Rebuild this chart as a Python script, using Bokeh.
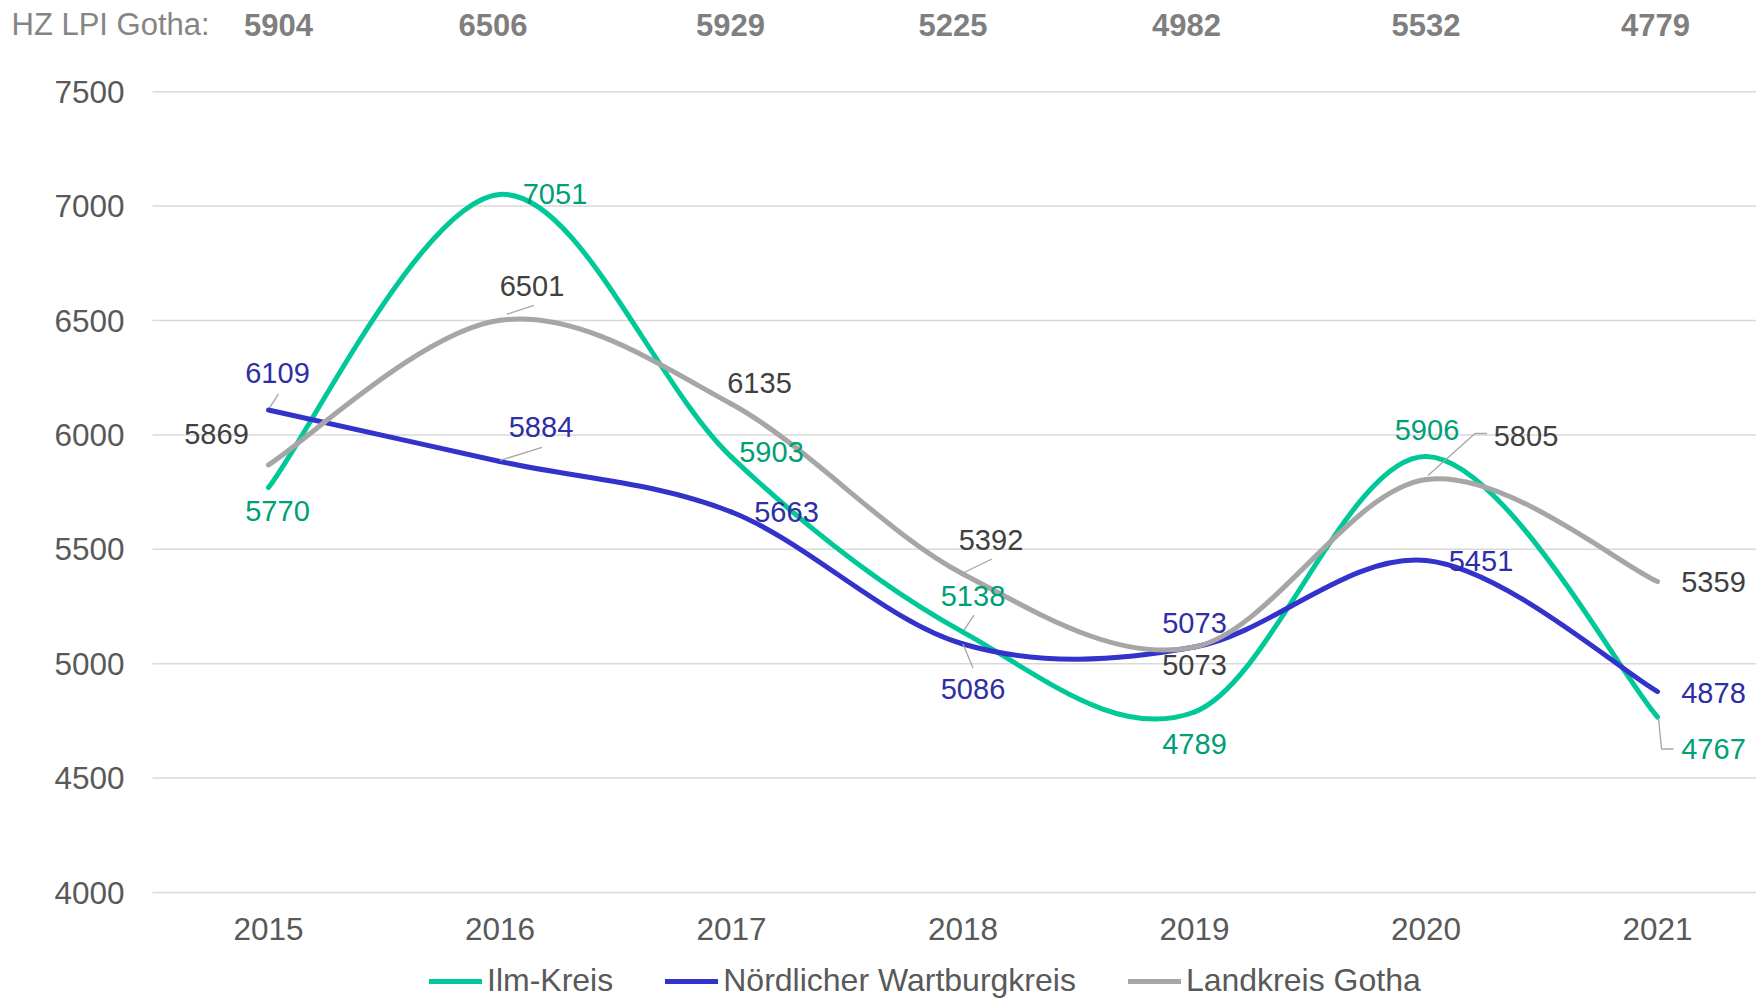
import numpy as np
from bokeh.plotting import figure
from bokeh.models import (Range1d, FixedTicker, Legend, LegendItem, LinearAxis,
                          ColumnDataSource)
from bokeh.core.properties import value
from bokeh.embed import file_html
from bokeh.resources import INLINE

# ---------------- data ----------------
years = [2015, 2016, 2017, 2018, 2019, 2020, 2021]
ilm_kreis = [5770, 7051, 5903, 5138, 4789, 5906, 4767]
wartburgkreis = [6109, 5884, 5663, 5086, 5073, 5451, 4878]
gotha = [5869, 6501, 6135, 5392, 5073, 5805, 5359]
hz_lpi_gotha = [5904, 6506, 5929, 5225, 4982, 5532, 4779]
y_ticks = [4000, 4500, 5000, 5500, 6000, 6500, 7000, 7500]
series_names = ["Ilm-Kreis", "Nördlicher Wartburgkreis", "Landkreis Gotha"]
header_title = "HZ LPI Gotha:"

# ---------------- layout / style ----------------
FONT = "Liberation Sans"
W, H = 1756, 999
PX_PER_YEAR = 231.5          # horizontal scale
PX_PER_UNIT = 0.2288         # vertical scale
X_FIRST_PX = 268             # screen x of first category
Y_BASE_PX = 892              # screen y of lowest tick
PLOT_LEFT_PX = 152           # left edge of the plotting area
HEADER_PX = 24               # screen y of header row
HEADER_TITLE_PX = 11


def sx_to_data(px):
    return years[0] + (px - X_FIRST_PX) / PX_PER_YEAR


def sy_to_data(py):
    return y_ticks[0] + (Y_BASE_PX - py) / PX_PER_UNIT


X_START, X_END = sx_to_data(0), sx_to_data(W)
Y_START, Y_END = sy_to_data(H), sy_to_data(0)
X_LEFT = sx_to_data(PLOT_LEFT_PX)
HEADER_Y = sy_to_data(HEADER_PX)

line_colors = ["#00C896", "#3333CC", "#A6A6A6"]
label_colors = ["#00A077", "#2E2EA6", "#404040"]

# label offsets in screen px (x right, y down)
label_offsets = [
    [(9, 23), (55, 0), (40, -5), (10, -36), (0, 32), (1, -26), (56, 32)],
    [(9, -37), (41, -34), (55, 0), (10, 45), (0, -24), (55, 0), (56, 1)],
    [(-52, -31), (32, -34), (28, -21), (28, -34), (0, 18), (100, -44), (56, 0)],
]
header_offsets = [10, -7, -1, -10, -8, 0, -2]
# leader lines: (series index, point index, path in px offsets)
leaders = [
    (1, 0, [(1, -2), (10, -16)]),
    (1, 1, [(0, -1), (42, -14)]),
    (2, 1, [(7, -6), (34, -15)]),
    (2, 3, [(2, -2), (29, -15)]),
    (0, 3, [(1, -2), (11, -17)]),
    (1, 3, [(0, 0), (10, 24)]),
    (2, 5, [(2, -4), (49, -46), (61, -46)]),
    (0, 6, [(1, 1), (4, 32), (16, 32)]),
]

p = figure(width=W, height=H, output_backend="svg", toolbar_location=None,
           x_range=Range1d(X_START, X_END), y_range=Range1d(Y_START, Y_END),
           x_axis_type=None, y_axis_type=None,
           min_border_left=0, min_border_right=0, min_border_top=0,
           min_border_bottom=0, title=None)
p.outline_line_color = None
p.background_fill_color = "white"
p.border_fill_color = "white"
p.xgrid.visible = False
p.ygrid.visible = False

# axes (fixed inside the frame so the frame can cover the whole canvas)
xaxis = LinearAxis(fixed_location=y_ticks[0], ticker=FixedTicker(ticks=years))
yaxis = LinearAxis(fixed_location=X_LEFT, ticker=FixedTicker(ticks=y_ticks))
for ax in (xaxis, yaxis):
    ax.axis_line_color = None
    ax.major_tick_line_color = None
    ax.minor_tick_line_color = None
    ax.major_label_text_font = FONT
    ax.major_label_text_font_size = "31.5px"
    ax.major_label_text_color = "#595959"
xaxis.major_label_standoff = 19
yaxis.major_label_standoff = 22
p.add_layout(xaxis, "below")
p.add_layout(yaxis, "left")

# horizontal grid lines across the plotting area
n = len(y_ticks)
p.segment(x0=[X_LEFT] * n, x1=[X_END] * n, y0=y_ticks, y1=y_ticks,
          line_color="#D9D9D9", line_width=1.5)


def bezier_segments(xs, ys):
    xs = np.asarray(xs, float)
    ys = np.asarray(ys, float)
    n = len(xs)
    px = np.concatenate([[xs[0]], xs, [xs[-1]]])
    py = np.concatenate([[ys[0]], ys, [ys[-1]]])
    i = np.arange(n - 1)
    return dict(
        x0=px[i + 1], y0=py[i + 1], x1=px[i + 2], y1=py[i + 2],
        cx0=px[i + 1] + (px[i + 2] - px[i]) / 6,
        cy0=py[i + 1] + (py[i + 2] - py[i]) / 6,
        cx1=px[i + 2] - (px[i + 3] - px[i + 1]) / 6,
        cy1=py[i + 2] - (py[i + 3] - py[i + 1]) / 6,
    )


all_series = [ilm_kreis, wartburgkreis, gotha]
renderers = []
for k, vals in enumerate(all_series):
    src = ColumnDataSource(bezier_segments(years, vals))
    r = p.bezier(x0="x0", y0="y0", x1="x1", y1="y1", cx0="cx0", cy0="cy0",
                 cx1="cx1", cy1="cy1", source=src, line_color=line_colors[k],
                 line_width=5, line_cap="round")
    renderers.append(r)

# leader lines
lx, ly = [], []
for s, i, path in leaders:
    lx.append([years[i] + dx / PX_PER_YEAR for dx, dy in path])
    ly.append([all_series[s][i] - dy / PX_PER_UNIT for dx, dy in path])
p.multi_line(lx, ly, line_color="#A6A6A6", line_width=1.3)

# data labels
for k, vals in enumerate(all_series):
    src = ColumnDataSource(dict(
        x=years, y=vals, t=[str(v) for v in vals],
        xo=[o[0] for o in label_offsets[k]], yo=[o[1] for o in label_offsets[k]]))
    p.text(x="x", y="y", text="t", x_offset="xo", y_offset="yo", source=src,
           text_font=value(FONT), text_font_size="29px",
           text_color=label_colors[k], text_align="center",
           text_baseline="middle")

# header row
hsrc = ColumnDataSource(dict(x=years, y=[HEADER_Y] * len(years),
                             t=[str(v) for v in hz_lpi_gotha],
                             xo=header_offsets))
p.text(x="x", y="y", text="t", x_offset="xo", source=hsrc,
       text_font=value(FONT), text_font_size="31px", text_font_style="bold",
       text_color="#7F7F7F", text_align="center", text_baseline="middle")
p.text(x=[sx_to_data(HEADER_TITLE_PX)], y=[HEADER_Y], text=[header_title],
       text_font=value(FONT), text_font_size="31px", text_color="#858585",
       text_align="left", text_baseline="middle")

legend = Legend(items=[LegendItem(label=series_names[k], renderers=[renderers[k]])
                       for k in range(3)],
                orientation="horizontal", location=(429, 0),
                glyph_width=53, glyph_height=30, label_height=30,
                label_standoff=5, spacing=52, padding=0, margin=0,
                border_line_color=None, background_fill_alpha=0,
                label_text_font=FONT, label_text_font_size="32px",
                label_text_color="#595959")
p.add_layout(legend, "center")

open("out.html", "w").write(file_html(p, INLINE))
